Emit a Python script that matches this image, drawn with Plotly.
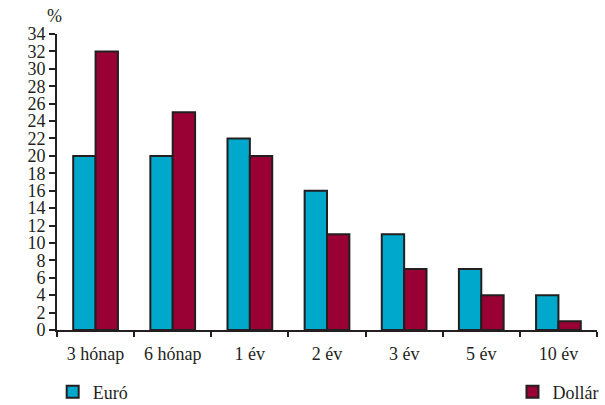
import plotly.graph_objects as go

categories = ["3 hónap", "6 hónap", "1 év", "2 év", "3 év", "5 év", "10 év"]
euro = [20, 20, 22, 16, 11, 7, 4]
dollar = [32, 25, 20, 11, 7, 4, 1]
y_ticks = list(range(0, 35, 2))

dark = "#231f20"
font = dict(family="Liberation Serif", size=18, color=dark)

fig = go.Figure()
fig.add_trace(go.Bar(x=categories, y=euro, name="Euró",
                     marker=dict(color="#00a8cc", line=dict(color=dark, width=2)),
                     legend="legend"))
fig.add_trace(go.Bar(x=categories, y=dollar, name="Dollár",
                     marker=dict(color="#990033", line=dict(color=dark, width=2)),
                     legend="legend2"))

fig.update_layout(
    width=605, height=405,
    margin=dict(l=57, r=8, t=34, b=75, autoexpand=False),
    paper_bgcolor="white", plot_bgcolor="white",
    font=font,
    barmode="group", bargap=0.42, bargroupgap=0,
    showlegend=True,
    legend=dict(x=-0.008, y=-0.21, xanchor="left", yanchor="middle",
                font=font, bgcolor="rgba(0,0,0,0)", itemwidth=30),
    legend2=dict(x=1.012, y=-0.21, xanchor="right", yanchor="middle",
                 font=font, bgcolor="rgba(0,0,0,0)", itemwidth=30),
    xaxis=dict(type="category", tickson="boundaries", ticks="outside",
               ticklen=5, tickwidth=2, tickcolor=dark,
               showline=True, linecolor=dark, linewidth=2,
               range=[-0.5, 6.5], showgrid=False, tickfont=font,
               ticklabelstandoff=6, automargin=False),
    yaxis=dict(range=[0, 34], tickvals=y_ticks, ticks="outside",
               ticklen=6, tickwidth=2, tickcolor=dark,
               showline=True, linecolor=dark, linewidth=2,
               showgrid=False, zeroline=False, tickfont=font,
               automargin=False),
    annotations=[dict(text="%", x=0, xref="paper", y=1, yref="paper",
                      xanchor="center", yanchor="bottom", xshift=-3, yshift=6,
                      showarrow=False, font=font)],
)

fig.write_html("out.html", config={"displayModeBar": False},
               post_script="document.body.style.margin='0';")
